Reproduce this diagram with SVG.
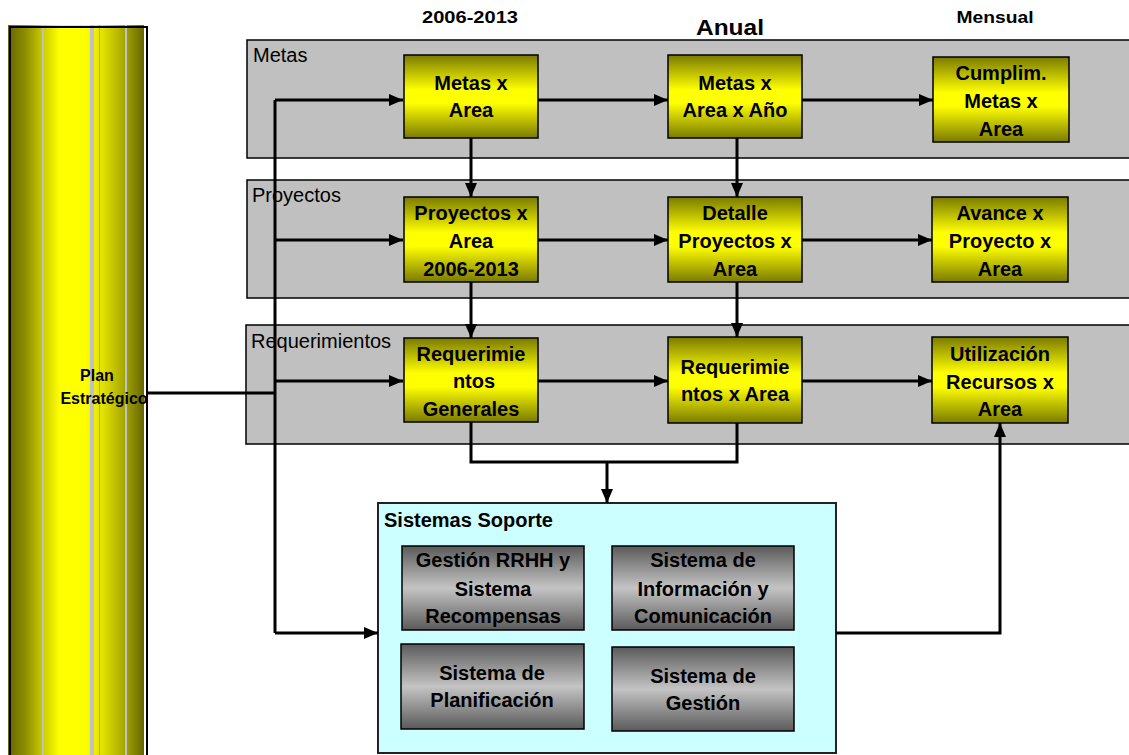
<svg xmlns="http://www.w3.org/2000/svg" width="1129" height="755" viewBox="0 0 1129 755">
<style>
text{font-family:"Liberation Sans",Arial,sans-serif;fill:#000}
.b{font-weight:bold;font-size:20px;text-anchor:middle}
.lbl{font-size:20px}
.band{fill:#c0c0c0;stroke:#000;stroke-width:1.5}
.yb{fill:url(#gy);stroke:#000;stroke-width:1.5}
.gb{fill:url(#gg);stroke:#000;stroke-width:1.5}
.c{fill:none;stroke:#000;stroke-width:3}
.a{marker-end:url(#ar)}
.hd{font-weight:bold;text-anchor:middle}
</style>
<defs>
<linearGradient id="gy" x1="0" y1="0" x2="0" y2="1">
<stop offset="0" stop-color="#7a7a00"/><stop offset="0.42" stop-color="#ffff00"/><stop offset="0.58" stop-color="#ffff00"/><stop offset="1" stop-color="#7a7a00"/>
</linearGradient>
<linearGradient id="gg" x1="0" y1="0" x2="0" y2="1">
<stop offset="0" stop-color="#5a5a5a"/><stop offset="0.5" stop-color="#c4c4c4"/><stop offset="1" stop-color="#5a5a5a"/>
</linearGradient>
<linearGradient id="gc" x1="0" y1="0" x2="1" y2="0">
<stop offset="0" stop-color="#666600"/><stop offset="0.13" stop-color="#8f8f00"/><stop offset="0.26" stop-color="#cccc00"/><stop offset="0.38" stop-color="#ffff00"/><stop offset="0.57" stop-color="#ffff00"/><stop offset="0.7" stop-color="#e0e000"/><stop offset="0.85" stop-color="#a8a800"/><stop offset="1" stop-color="#666600"/>
</linearGradient>
<marker id="ar" viewBox="0 0 14 12" refX="14" refY="6" markerWidth="14" markerHeight="12" markerUnits="userSpaceOnUse" orient="auto">
<path d="M0,0 L14,6 L0,12 z" fill="#000"/>
</marker>
</defs>

<g id="headers">
<text class="hd" x="470" y="23" font-size="17" textLength="96" lengthAdjust="spacingAndGlyphs">2006-2013</text>
<text class="hd" x="730" y="35" font-size="22" textLength="68" lengthAdjust="spacingAndGlyphs">Anual</text>
<text class="hd" x="995" y="23" font-size="17" textLength="77" lengthAdjust="spacingAndGlyphs">Mensual</text>
</g>

<g id="plan">
<rect x="8" y="25" width="136" height="740" fill="url(#gc)"/>
<rect x="42" y="25" width="2" height="740" fill="#c0c0c8"/>
<rect x="90" y="25" width="4" height="740" fill="#c0c0c8"/>
<rect x="99" y="25" width="1" height="740" fill="#a0a0a0"/>
<rect x="125" y="25" width="2" height="740" fill="#c0c0c8"/>
<rect x="10" y="27" width="137" height="740" fill="none" stroke="#000" stroke-width="2"/>
<text x="97" y="381" font-size="16" font-weight="bold" text-anchor="middle">Plan</text>
<text x="104" y="404" font-size="16" font-weight="bold" text-anchor="middle">Estratégico</text>
</g>

<g id="band-metas">
<rect class="band" x="247" y="40" width="890" height="118"/>
<text class="lbl" x="253" y="62">Metas</text>
</g>
<g id="band-proyectos">
<rect class="band" x="247" y="180" width="890" height="118"/>
<text class="lbl" x="252" y="202">Proyectos</text>
</g>
<g id="band-requerimientos">
<rect class="band" x="246" y="325" width="890" height="119"/>
<text class="lbl" x="251" y="348">Requerimientos</text>
</g>

<g id="sistemas">
<rect x="378" y="503" width="458" height="250" fill="#ccffff" stroke="#222" stroke-width="2"/>
<text x="384" y="527" font-size="20" font-weight="bold">Sistemas Soporte</text>
</g>

<g id="connectors">
<path class="c" d="M147,393 H275"/>
<path class="c" d="M275,100 V633"/>
<path class="c a" d="M275,100 H403"/>
<path class="c a" d="M275,240 H403"/>
<path class="c a" d="M275,381 H403"/>
<path class="c a" d="M275,633 H378"/>
<path class="c a" d="M538,100 H668"/>
<path class="c a" d="M802,100 H933"/>
<path class="c a" d="M538,240 H668"/>
<path class="c a" d="M802,240 H932"/>
<path class="c a" d="M538,381 H668"/>
<path class="c a" d="M802,381 H932"/>
<path class="c a" d="M471,138 V197"/>
<path class="c a" d="M737,138 V197"/>
<path class="c a" d="M471,282 V338"/>
<path class="c a" d="M737,282 V337"/>
<path class="c" d="M471,422 V462 H737 V423"/>
<path class="c a" d="M607,462 V503"/>
<path class="c a" d="M836,633 H1000 V423"/>
</g>

<g id="n-metas-area">
<rect class="yb" x="404" y="55" width="134" height="83"/>
<text class="b" x="471" y="90">Metas x</text>
<text class="b" x="471" y="117">Area</text>
</g>
<g id="n-metas-area-ano">
<rect class="yb" x="668" y="55" width="134" height="83"/>
<text class="b" x="735" y="90">Metas x</text>
<text class="b" x="735" y="117">Area x Año</text>
</g>
<g id="n-cumplim">
<rect class="yb" x="933" y="57" width="136" height="85"/>
<text class="b" x="1001" y="80">Cumplim.</text>
<text class="b" x="1001" y="108">Metas x</text>
<text class="b" x="1001" y="136">Area</text>
</g>

<g id="n-proyectos-area">
<rect class="yb" x="404" y="197" width="134" height="85"/>
<text class="b" x="471" y="220">Proyectos x</text>
<text class="b" x="471" y="248">Area</text>
<text class="b" x="471" y="276">2006-2013</text>
</g>
<g id="n-detalle">
<rect class="yb" x="668" y="197" width="134" height="85"/>
<text class="b" x="735" y="220">Detalle</text>
<text class="b" x="735" y="248">Proyectos x</text>
<text class="b" x="735" y="276">Area</text>
</g>
<g id="n-avance">
<rect class="yb" x="932" y="197" width="136" height="85"/>
<text class="b" x="1000" y="220">Avance x</text>
<text class="b" x="1000" y="248">Proyecto x</text>
<text class="b" x="1000" y="276">Area</text>
</g>

<g id="n-req-generales">
<rect class="yb" x="404" y="338" width="134" height="84"/>
<text class="b" x="471" y="361">Requerimie</text>
<text class="b" x="474" y="388">ntos</text>
<text class="b" x="471" y="416">Generales</text>
</g>
<g id="n-req-area">
<rect class="yb" x="668" y="337" width="134" height="86"/>
<text class="b" x="735" y="374">Requerimie</text>
<text class="b" x="735" y="401">ntos x Area</text>
</g>
<g id="n-utilizacion">
<rect class="yb" x="932" y="337" width="136" height="86"/>
<text class="b" x="1000" y="361">Utilización</text>
<text class="b" x="1000" y="389">Recursos x</text>
<text class="b" x="1000" y="416">Area</text>
</g>

<g id="n-rrhh">
<rect class="gb" x="402" y="546" width="182" height="84"/>
<text class="b" x="493" y="567">Gestión RRHH y</text>
<text class="b" x="493" y="596">Sistema</text>
<text class="b" x="493" y="623">Recompensas</text>
</g>
<g id="n-info">
<rect class="gb" x="612" y="546" width="182" height="84"/>
<text class="b" x="703" y="567">Sistema de</text>
<text class="b" x="703" y="596">Información y</text>
<text class="b" x="703" y="623">Comunicación</text>
</g>
<g id="n-planif">
<rect class="gb" x="401" y="644" width="183" height="85"/>
<text class="b" x="492" y="680">Sistema de</text>
<text class="b" x="492" y="707">Planificación</text>
</g>
<g id="n-gestion">
<rect class="gb" x="612" y="647" width="182" height="84"/>
<text class="b" x="703" y="683">Sistema de</text>
<text class="b" x="703" y="710">Gestión</text>
</g>
</svg>
